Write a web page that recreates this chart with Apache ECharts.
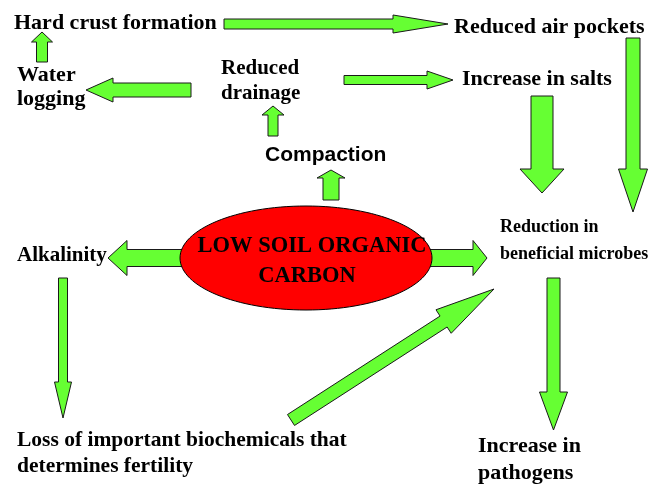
<!DOCTYPE html>
<html>
<head>
<meta charset="utf-8">
<script src="https://cdn.jsdelivr.net/npm/echarts@6/dist/echarts.min.js"></script>
<style>html,body{margin:0;padding:0;background:#fff}#c{width:654px;height:487px}</style>
</head>
<body>
<div id="c"></div>
<script>
// ---- Diagram data (diagram units) ----
// Concept labels
const labels = [
  'Hard crust formation',
  'Reduced air pockets',
  'Water\nlogging',
  'Reduced\ndrainage',
  'Increase in salts',
  'Compaction',
  'Alkalinity',
  'Reduction in\nbeneficial microbes',
  'LOW SOIL ORGANIC',
  'CARBON',
  'Loss of important biochemicals that\ndetermines fertility',
  'Increase in\npathogens'
];
// Label anchor positions (block centre for multi-line labels)
const labelX = [14, 454, 17, 221, 462, 265, 17, 500, 312, 307, 17, 478];
const labelY = [23, 27, 87, 81.5, 79, 155.5, 256, 241, 246, 276, 453.5, 459.5];

// Arrows: tail point -> tip point
const arrowTailX = [224, 191, 42, 273, 344, 331, 190, 420, 542, 633, 63, 291, 553.5];
const arrowTailY = [24, 90, 62, 136, 80, 200, 258, 258, 96, 38, 278, 420, 278];
const arrowTipX  = [448, 86, 42, 273, 453, 331, 108, 487, 542, 633, 63, 494, 553.5];
const arrowTipY  = [24, 90, 32, 106, 80, 170, 258, 258, 193, 212, 418, 289, 430];

// Central ellipse: centre and radii
const coreCenter = [306, 258];
const coreRadius = [126, 52];

// ---- Styles (not data) ----
const shaftW = [10, 14, 11, 10, 9, 16, 17, 17, 22, 14, 9, 13, 13];
const headW  = [18, 24, 21, 22, 18, 28, 35, 35, 44, 29, 17, 28, 28];
const headL  = [55, 27, 10, 9, 26, 8, 19, 14, 24, 43, 36, 60, 38];
const labelFont = [
  'bold 22px "Liberation Serif"', 'bold 22px "Liberation Serif"', 'bold 22px "Liberation Serif"',
  'bold 21px "Liberation Serif"', 'bold 22px "Liberation Serif"', 'bold 21px "Liberation Sans"',
  'bold 21px "Liberation Serif"', 'bold 18px "Liberation Serif"', 'bold 22.5px "Liberation Serif"',
  'bold 22.5px "Liberation Serif"', 'bold 21.5px "Liberation Serif"', 'bold 22px "Liberation Serif"'
];
const labelLH = [24, 24, 24, 25, 24, 24, 24, 27, 24, 24, 26, 27];
const labelAlign = ['left','left','left','left','left','left','left','left','center','center','left','left'];

const arrowData = arrowTailX.map((x, i) => [x, arrowTailY[i], arrowTipX[i], arrowTipY[i], i]);
const labelData = labels.map((t, i) => [labelX[i], labelY[i], i]);

const chart = echarts.init(document.getElementById('c'), null, {renderer: 'canvas'});
chart.setOption({
  animation: false,
  backgroundColor: '#ffffff',
  grid: {left: 0, right: 0, top: 0, bottom: 0},
  xAxis: {type: 'value', min: 0, max: 654, show: false},
  yAxis: {type: 'value', min: 0, max: 487, inverse: true, show: false},
  series: [
    {
      type: 'custom',
      clip: false,
      z: 2,
      data: arrowData,
      encode: {x: [0, 2], y: [1, 3]},
      renderItem: function (params, api) {
        const i = api.value(4);
        const t = api.coord([api.value(0), api.value(1)]);
        const p = api.coord([api.value(2), api.value(3)]);
        const dx = p[0] - t[0], dy = p[1] - t[1];
        const len = Math.sqrt(dx * dx + dy * dy);
        const ux = dx / len, uy = dy / len;
        const nx = -uy, ny = ux;
        const sw = shaftW[i] / 2, hw = headW[i] / 2;
        const bx = p[0] - ux * headL[i], by = p[1] - uy * headL[i];
        const pts = [
          [t[0] + nx * sw, t[1] + ny * sw],
          [bx + nx * sw, by + ny * sw],
          [bx + nx * hw, by + ny * hw],
          [p[0], p[1]],
          [bx - nx * hw, by - ny * hw],
          [bx - nx * sw, by - ny * sw],
          [t[0] - nx * sw, t[1] - ny * sw]
        ];
        return {
          type: 'polygon',
          shape: {points: pts},
          style: {fill: '#66ff33', stroke: '#1a1a1a', lineWidth: 1}
        };
      }
    },
    {
      type: 'custom',
      clip: false,
      z: 3,
      data: [[coreCenter[0], coreCenter[1], coreRadius[0], coreRadius[1]]],
      renderItem: function (params, api) {
        const c = api.coord([api.value(0), api.value(1)]);
        const s = api.size([api.value(2), api.value(3)]);
        return {
          type: 'ellipse',
          shape: {cx: c[0], cy: c[1], rx: s[0], ry: s[1]},
          style: {fill: '#ff0000', stroke: '#000000', lineWidth: 1}
        };
      }
    },
    {
      type: 'custom',
      clip: false,
      z: 4,
      data: labelData,
      renderItem: function (params, api) {
        const i = api.value(2);
        const c = api.coord([api.value(0), api.value(1)]);
        return {
          type: 'text',
          x: c[0],
          y: c[1],
          style: {
            text: labels[i],
            font: labelFont[i],
            fill: '#000000',
            align: labelAlign[i],
            textAlign: labelAlign[i],
            verticalAlign: 'middle',
            textVerticalAlign: 'middle',
            lineHeight: labelLH[i]
          }
        };
      }
    }
  ]
});
</script>
</body>
</html>
